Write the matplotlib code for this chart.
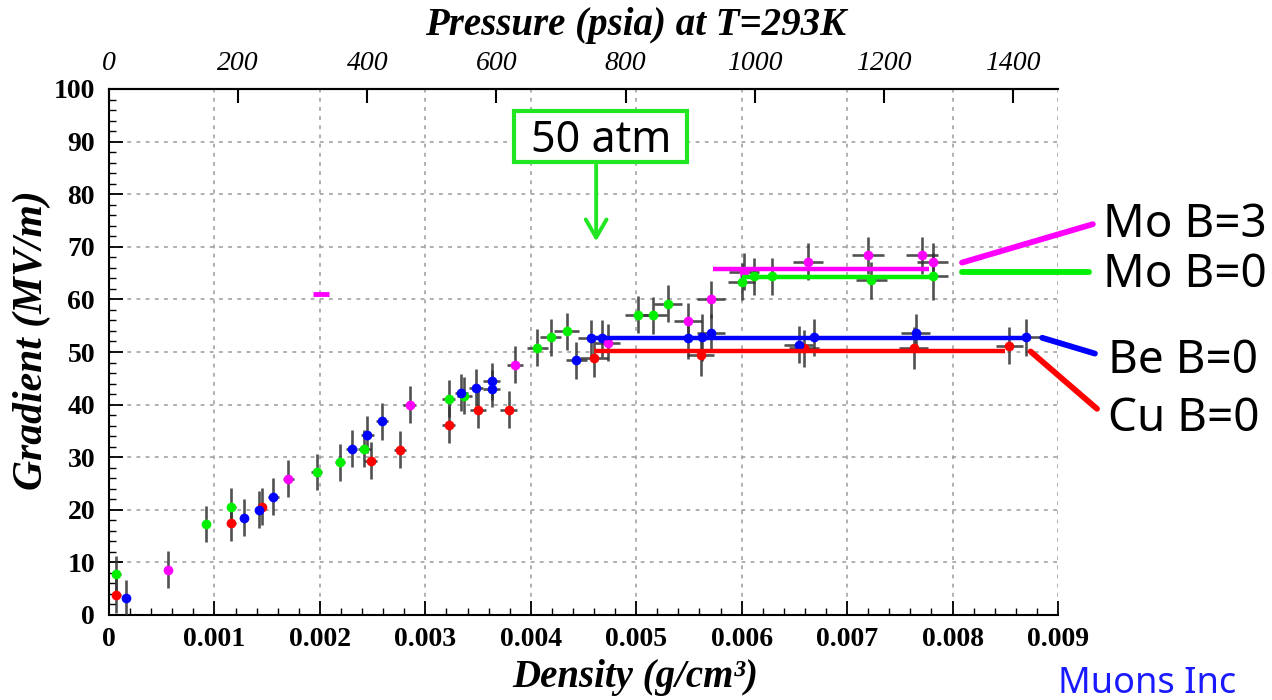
import matplotlib
matplotlib.use("Agg")
import matplotlib.pyplot as plt
from matplotlib.patches import Rectangle
from matplotlib.ticker import MultipleLocator

# ---- measurements: density (g/cm^3), gradient (MV/m) ----
cu_b0_x = [0.00007, 0.00116, 0.00145, 0.00248, 0.00276, 0.00322, 0.00350, 0.00379,
           0.00460, 0.00561, 0.00659, 0.00763, 0.00854]
cu_b0_y = [3.8, 17.5, 20.6, 29.3, 31.4, 36.2, 39.0, 39.0, 48.8, 49.5, 50.7, 50.7, 51.2]
cu_b0_yerr = [3.5, 3.5, 3.5, 3.5, 3.5, 3.5, 3.5, 3.5, 3.5, 4.0, 3.5, 4.0, 3.5]
cu_b0_xerr = [0.00004, 0.00004, 0.00004, 0.00006, 0.00006, 0.00006, 0.00008, 0.00008,
              0.00013, 0.00013, 0.00014, 0.00014, 0.00013]

mo_b0_x = [0.00007, 0.00092, 0.00116, 0.00197, 0.00219, 0.00242, 0.00322, 0.00337,
           0.00406, 0.00419, 0.00434, 0.00502, 0.00516, 0.00530, 0.00600, 0.00612,
           0.00629, 0.00723, 0.00781]
mo_b0_y = [7.8, 17.3, 20.6, 27.2, 29.0, 31.6, 41.1, 41.7, 50.8, 52.8, 53.9, 57.1, 57.0,
           59.2, 63.4, 64.4, 64.4, 63.6, 64.4]
mo_b0_yerr = [3.5, 3.5, 3.5, 3.5, 3.5, 3.5, 3.5, 3.5, 3.5, 3.5, 3.5, 3.5, 3.5, 3.5,
              3.5, 3.5, 3.5, 3.5, 4.5]
mo_b0_xerr = [0.00004, 0.00004, 0.00004, 0.00005, 0.00005, 0.00006, 0.00006, 0.00007,
              0.00010, 0.00010, 0.00012, 0.00013, 0.00013, 0.00013, 0.00013, 0.00014,
              0.00014, 0.00015, 0.00015]

be_b0_x = [0.00016, 0.00128, 0.00142, 0.00156, 0.00230, 0.00245, 0.00259, 0.00334,
           0.00348, 0.00363, 0.00363, 0.00443, 0.00457, 0.00468, 0.00549, 0.00562,
           0.00571, 0.00654, 0.00669, 0.00765, 0.00870]
be_b0_y = [3.2, 18.5, 20.0, 22.5, 31.6, 34.3, 36.8, 42.3, 43.2, 44.4, 43.0, 48.4, 52.6,
           52.6, 52.6, 52.8, 53.7, 51.4, 52.8, 53.7, 52.8]
be_b0_yerr = [3.5, 3.5, 3.5, 3.5, 3.5, 3.5, 3.5, 3.5, 3.5, 3.5, 3.5, 3.5, 3.5, 3.5,
              4.0, 4.5, 3.5, 3.5, 3.5, 3.5, 3.5]
be_b0_xerr = [0.00004, 0.00004, 0.00004, 0.00005, 0.00005, 0.00006, 0.00006, 0.00006,
              0.00007, 0.00008, 0.00008, 0.00010, 0.00012, 0.00012, 0.00013, 0.00013,
              0.00013, 0.00014, 0.00014, 0.00014, 0.00014]

mo_b3_x = [0.00056, 0.00170, 0.00285, 0.00385, 0.00473, 0.00549, 0.00571, 0.00602,
           0.00663, 0.00720, 0.00771, 0.00781]
mo_b3_y = [8.6, 25.9, 40.0, 47.6, 51.8, 55.8, 60.0, 65.3, 67.2, 68.4, 68.4, 67.2]
mo_b3_yerr = [3.5, 3.5, 3.5, 3.5, 3.5, 3.5, 3.5, 3.5, 3.5, 3.5, 3.5, 3.5]
mo_b3_xerr = [0.00004, 0.00005, 0.00006, 0.00008, 0.00012, 0.00013, 0.00013, 0.00014,
              0.00014, 0.00015, 0.00015, 0.00015]

# isolated Mo B=3 reading without error bar
mo_b3_single_x = [0.00201]
mo_b3_single_y = [61.0]

# plateau levels: (start density, end density, gradient)
plateau_mo_b3 = (0.00573, 0.00778, 65.7)
plateau_mo_b0 = (0.00600, 0.00781, 64.2)
plateau_be_b0 = (0.00457, 0.00870, 52.6)
plateau_cu_b0 = (0.00460, 0.00850, 50.1)

# labels and leader lines (density, gradient) to the right of the data
series_labels = ["Mo B=3", "Mo B=0", "Be B=0", "Cu B=0"]
label_pos = [(0.00943, 71.8), (0.00943, 62.3), (0.00947, 46.1), (0.00947, 34.9)]
leader_x = [(0.00809, 0.00933), (0.00809, 0.00929), (0.00885, 0.00935), (0.00874, 0.00937)]
leader_y = [(67.0, 74.3), (65.3, 65.3), (52.7, 49.7), (50.1, 39.2)]

PSIA_PER_DENSITY = 163300.0   # psia per g/cm^3 at 293 K (linear scale of the top axis)
psia_ticks = [0, 200, 400, 600, 800, 1000, 1200, 1400]
density_ticks = [0, 0.001, 0.002, 0.003, 0.004, 0.005, 0.006, 0.007, 0.008, 0.009]
density_ticklabels = ["0", "0.001", "0.002", "0.003", "0.004", "0.005", "0.006",
                      "0.007", "0.008", "0.009"]

RED, GREEN, BLUE, MAGENTA = "#ff0000", "#00f000", "#0000ff", "#ff00ff"
SERIF = "Liberation Serif"
SANS = "Noto Sans"

W, H = 1272, 700
fig = plt.figure(figsize=(W / 100, H / 100), dpi=100)
ax = fig.add_axes([109 / W, 85 / H, 949 / W, 526 / H])
ax.set_xlim(0, 0.009)
ax.set_ylim(0, 100)

# grid
ax.grid(True, which="major", color="#9a9a9a", linestyle=(0, (2.5, 3.5)), linewidth=1.1)
ax.set_axisbelow(True)

# error bars with markers
err_kw = dict(fmt="o", ms=7, mew=0, ecolor="#333333", elinewidth=1.9, capsize=0,
              zorder=3)
for xs, ys, xe, ye, c in [
    (cu_b0_x, cu_b0_y, cu_b0_xerr, cu_b0_yerr, RED),
    (mo_b0_x, mo_b0_y, mo_b0_xerr, mo_b0_yerr, GREEN),
    (be_b0_x, be_b0_y, be_b0_xerr, be_b0_yerr, BLUE),
    (mo_b3_x, mo_b3_y, mo_b3_xerr, mo_b3_yerr, MAGENTA),
]:
    eb = ax.errorbar(xs, ys, xerr=xe, yerr=ye, color=c, **err_kw)
    for coll in eb[2]:
        coll.set_alpha(0.85)

ax.plot(mo_b3_single_x, mo_b3_single_y, marker="_", ms=11, mew=3.5, color=MAGENTA,
        linestyle="none", zorder=3)

# plateau lines
for (x0, x1, yv), c in [(plateau_mo_b3, MAGENTA), (plateau_mo_b0, GREEN),
                        (plateau_be_b0, BLUE), (plateau_cu_b0, RED)]:
    ax.plot([x0, x1], [yv, yv], color=c, lw=3.2, solid_capstyle="butt", zorder=4)

# leader lines and series labels
for (lx, ly), c in zip(zip(leader_x, leader_y), [MAGENTA, GREEN, BLUE, RED]):
    ax.plot(lx, ly, color=c, lw=4.2, solid_capstyle="round", clip_on=False, zorder=5)
for text, (tx, ty) in zip(series_labels, label_pos):
    ax.text(tx, ty, text, fontsize=33, family=SANS, color="black", ha="left",
            va="baseline", clip_on=False)

# 50 atm marker
box_x0, box_x1, box_y0, box_y1 = 0.003843, 0.005484, 86.1, 95.8
ax.add_patch(Rectangle((box_x0, box_y0), box_x1 - box_x0, box_y1 - box_y0,
                       facecolor="white", edgecolor="#22e622", lw=3, zorder=6,
                       clip_on=False))
ax.text((box_x0 + box_x1) / 2, 88.0, "50 atm", fontsize=31, family=SANS,
        ha="center", va="baseline", zorder=7)
ax.annotate("", xy=(0.00462, 70.5), xytext=(0.00462, 86.1),
            arrowprops=dict(arrowstyle="->,head_length=1.3,head_width=0.75",
                            color="#22e622", lw=2.8), zorder=6)

# axes styling
for side in ["left", "bottom", "top"]:
    ax.spines[side].set_linewidth(1.5)
ax.spines["right"].set_visible(False)

ax.set_xticks(density_ticks)
ax.set_xticklabels(density_ticklabels)
ax.xaxis.set_minor_locator(MultipleLocator(0.0002))
ax.yaxis.set_major_locator(MultipleLocator(10))
ax.yaxis.set_minor_locator(MultipleLocator(2))
ax.tick_params(axis="both", which="major", direction="in", length=10, width=1.3,
               top=False, right=False)
ax.tick_params(axis="both", which="minor", direction="in", length=5, width=1.0,
               top=False, right=False)
ax.tick_params(axis="x", pad=9)
ax.tick_params(axis="y", pad=10)
for lab in ax.get_xticklabels() + ax.get_yticklabels():
    lab.set_fontfamily(SERIF)
    lab.set_fontweight("bold")
    lab.set_fontsize(20)

secax = ax.secondary_xaxis("top", functions=(lambda d: d * PSIA_PER_DENSITY,
                                             lambda p: p / PSIA_PER_DENSITY))
secax.set_xticks(psia_ticks)
secax.tick_params(axis="x", direction="in", length=10, width=1.5, pad=9)
secax.spines["top"].set_linewidth(1.5)
for lab in secax.get_xticklabels():
    lab.set_fontfamily(SERIF)
    lab.set_fontstyle("italic")
    lab.set_fontsize(20)

# axis titles
fig.text(636 / W, 1 - 25 / H, "Pressure (psia) at T=293K", family=SERIF,
         fontweight="bold", fontstyle="italic", fontsize=28, ha="center", va="center")
fig.text(32 / W, 1 - 340 / H, "Gradient (MV/m)", family=SERIF, fontweight="bold",
         fontstyle="italic", fontsize=30, ha="center", va="center", rotation=90)
fig.text(635 / W, 1 - 677 / H, "Density (g/cm³)", family=SERIF, fontweight="bold",
         fontstyle="italic", fontsize=28, ha="center", va="center")

fig.text(1058 / W, 1 - 693 / H, "Muons Inc", family=SANS, color="#1a1aff",
         fontsize=26, ha="left", va="baseline")

fig.savefig("out.png", dpi=100)
